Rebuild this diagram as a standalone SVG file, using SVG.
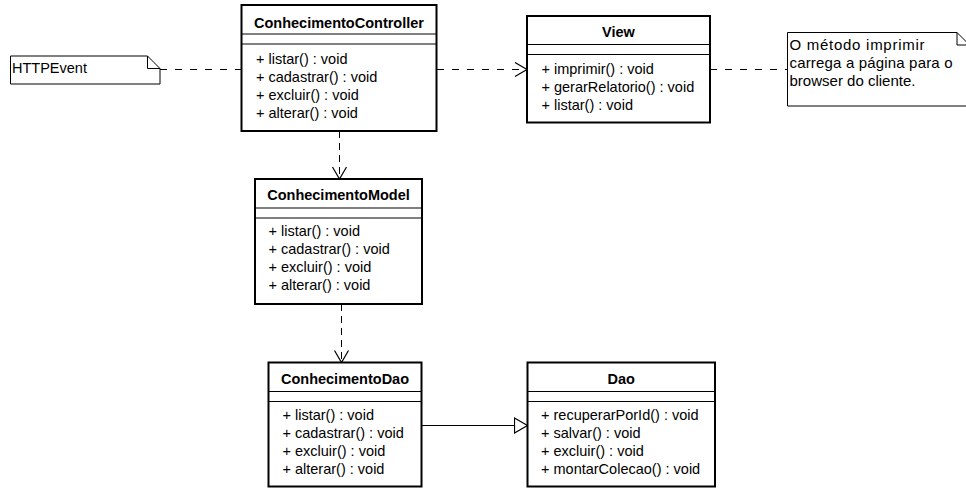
<svg xmlns="http://www.w3.org/2000/svg" width="966" height="489" viewBox="0 0 966 489">
<style>
text{font-family:"Liberation Sans",Arial,sans-serif;font-size:14.5px;fill:#000}
.t{font-weight:bold;text-anchor:middle}
.n{font-size:15px}
.box{fill:#fff;stroke:#000;stroke-width:2}
.sep{stroke:#000;stroke-width:1}
.note{fill:#fff;stroke:#000;stroke-width:1}
.fold{fill:none;stroke:#000;stroke-width:1}
.dh{stroke:#000;stroke-width:1;stroke-dasharray:7 8;fill:none}
.dv{stroke:#000;stroke-width:1;stroke-dasharray:7 5;fill:none}
.solid{stroke:#000;stroke-width:1;fill:none}
</style>
<defs>
<marker id="open" markerUnits="userSpaceOnUse" markerWidth="16" markerHeight="18" viewBox="0 0 16 18" refX="13" refY="8" orient="auto">
<path d="M1,1 L13,8 L1,15" fill="none" stroke="#000" stroke-width="1.2" stroke-dasharray="none"/>
</marker>
<marker id="tri" markerUnits="userSpaceOnUse" markerWidth="16" markerHeight="18" viewBox="0 0 16 18" refX="14" refY="8.5" orient="auto">
<path d="M1,1 L14,8.5 L1,16 Z" fill="#fff" stroke="#000" stroke-width="1.2" stroke-dasharray="none"/>
</marker>
</defs>
<rect width="966" height="489" fill="#fff"/>

<g id="connectors">
<line class="dh" x1="160" y1="69.5" x2="241" y2="69.5"/>
<line class="dh" x1="437" y1="69.5" x2="527" y2="69.5" marker-end="url(#open)"/>
<line class="dh" x1="710" y1="69.5" x2="787.5" y2="69.5"/>
<line class="dv" x1="339.5" y1="131" x2="339.5" y2="179" marker-end="url(#open)"/>
<line class="dv" x1="341.5" y1="304" x2="341.5" y2="362.5" marker-end="url(#open)"/>
<line class="solid" x1="421.5" y1="425.5" x2="527.5" y2="425.5" marker-end="url(#tri)"/>
</g>

<g id="httpevent-note">
<path class="note" d="M10.5,56 H147.5 L160,68.5 V84 H10.5 Z"/>
<path class="fold" d="M147.5,56 V68.5 H160"/>
<text x="12" y="72.5">HTTPEvent</text>
</g>

<g id="conhecimento-controller">
<rect class="box" x="241.5" y="5" width="195" height="126"/>
<line class="sep" x1="241.5" y1="34" x2="436.5" y2="34"/>
<line class="sep" x1="241.5" y1="44" x2="436.5" y2="44"/>
<text class="t" x="339" y="28">ConhecimentoController</text>
<text x="256" y="64">+ listar() : void</text>
<text x="256" y="82">+ cadastrar() : void</text>
<text x="256" y="100">+ excluir() : void</text>
<text x="256" y="118">+ alterar() : void</text>
</g>

<g id="view">
<rect class="box" x="527" y="16" width="183" height="106.5"/>
<line class="sep" x1="527" y1="44.5" x2="710" y2="44.5"/>
<line class="sep" x1="527" y1="54.5" x2="710" y2="54.5"/>
<text class="t" x="618.5" y="36.7">View</text>
<text x="541.5" y="73.5">+ imprimir() : void</text>
<text x="541.5" y="91.5">+ gerarRelatorio() : void</text>
<text x="541.5" y="109.5">+ listar() : void</text>
</g>

<g id="view-note">
<path class="note" d="M787.5,32.5 H957 L969.5,45 V106 H787.5 Z"/>
<path class="fold" d="M957,32.5 V45 H969.5"/>
<text class="n" x="789.5" y="50" textLength="135" lengthAdjust="spacing">O método imprimir</text>
<text class="n" x="789.5" y="68" textLength="163" lengthAdjust="spacing">carrega a página para o</text>
<text class="n" x="789.5" y="86" textLength="126" lengthAdjust="spacing">browser do cliente.</text>
</g>

<g id="conhecimento-model">
<rect class="box" x="255" y="179" width="167" height="125"/>
<line class="sep" x1="255" y1="208" x2="422" y2="208"/>
<line class="sep" x1="255" y1="218" x2="422" y2="218"/>
<text class="t" x="338.5" y="200">ConhecimentoModel</text>
<text x="268.5" y="235.5">+ listar() : void</text>
<text x="268.5" y="253.5">+ cadastrar() : void</text>
<text x="268.5" y="271.5">+ excluir() : void</text>
<text x="268.5" y="289.5">+ alterar() : void</text>
</g>

<g id="conhecimento-dao">
<rect class="box" x="268.5" y="362.5" width="153" height="124"/>
<line class="sep" x1="268.5" y1="391.5" x2="421.5" y2="391.5"/>
<line class="sep" x1="268.5" y1="401.5" x2="421.5" y2="401.5"/>
<text class="t" x="345" y="383.5">ConhecimentoDao</text>
<text x="282.5" y="420">+ listar() : void</text>
<text x="282.5" y="438">+ cadastrar() : void</text>
<text x="282.5" y="456">+ excluir() : void</text>
<text x="282.5" y="474">+ alterar() : void</text>
</g>

<g id="dao">
<rect class="box" x="527.5" y="362.5" width="187.5" height="124"/>
<line class="sep" x1="527.5" y1="391.5" x2="715" y2="391.5"/>
<line class="sep" x1="527.5" y1="401.5" x2="715" y2="401.5"/>
<text class="t" x="621.25" y="383.5">Dao</text>
<text x="541" y="420">+ recuperarPorId() : void</text>
<text x="541" y="438">+ salvar() : void</text>
<text x="541" y="456">+ excluir() : void</text>
<text x="541" y="474">+ montarColecao() : void</text>
</g>
</svg>
